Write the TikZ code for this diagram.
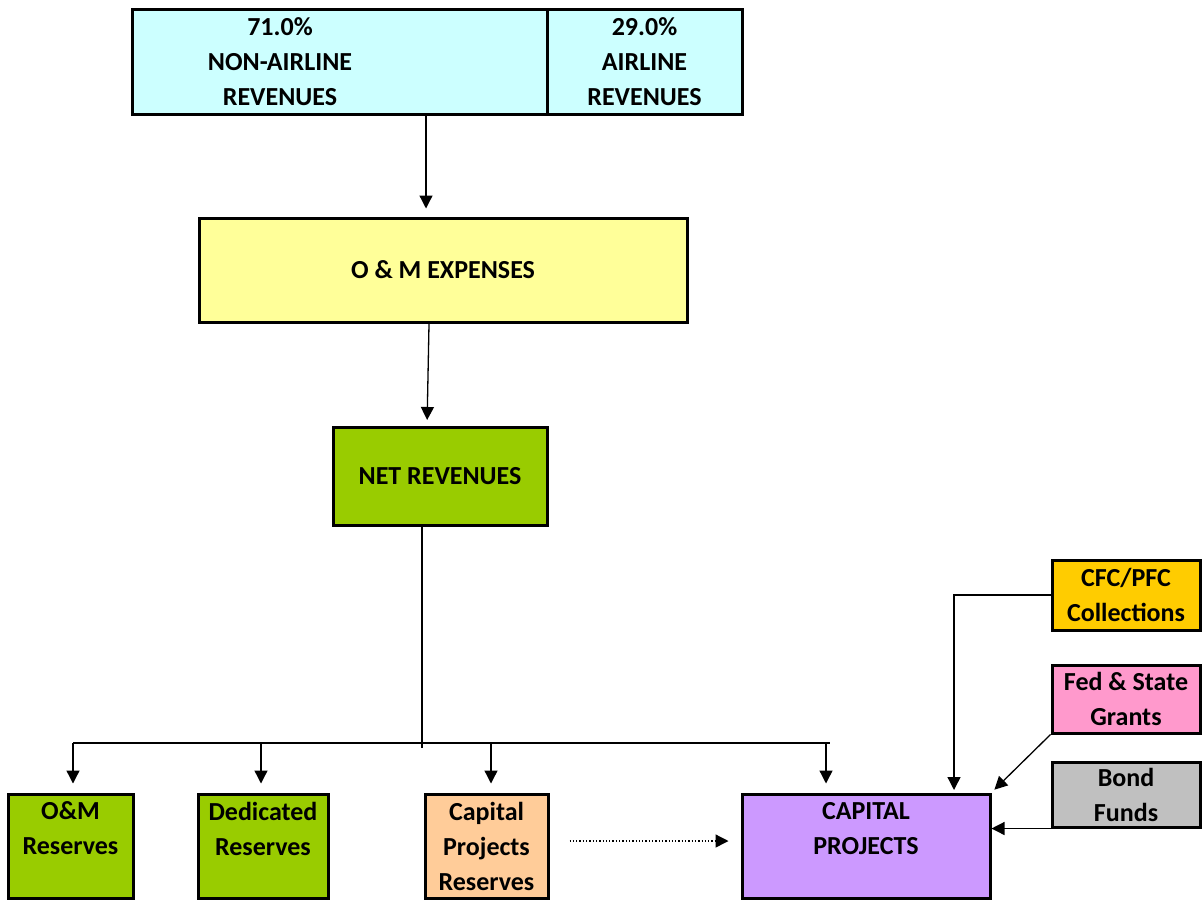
\documentclass[tikz,border=0pt]{standalone}
\usepackage{fontspec}
\setmainfont{Carlito}
\usetikzlibrary{arrows.meta}
\definecolor{revcyan}{HTML}{CCFFFF}
\definecolor{expyellow}{HTML}{FFFF99}
\definecolor{netgreen}{HTML}{99CC00}
\definecolor{respeach}{HTML}{FFCC99}
\definecolor{projpurple}{HTML}{CC99FF}
\definecolor{cfcgold}{HTML}{FFCC00}
\definecolor{grantpink}{HTML}{FF99CC}
\definecolor{bondgray}{HTML}{C0C0C0}
\begin{document}
\begin{tikzpicture}[x=0.5pt,y=-0.5pt,
    every node/.style={font=\bfseries\fontsize{13}{17.5}\selectfont,align=center},
    box/.style={rectangle,draw=black,line width=1.5pt,inner sep=0pt},
    arr/.style={-{Triangle[length=6.5pt,width=6.5pt]},line width=0.65pt}]
    \useasboundingbox (0,0) rectangle (1202,899);

    % revenue split
    \node[box,fill=revcyan,minimum width=207.5pt,minimum height=52pt] (nonair) at (339.5,62) {};
    \node[box,fill=revcyan,minimum width=97.5pt,minimum height=52pt] (air) at (644.5,62)
          {29.0\%\\AIRLINE\\REVENUES};
    \node (nonairtxt) at (280,62) {71.0\%\\NON-AIRLINE\\REVENUES};

    \node[box,fill=expyellow,minimum width=244pt,minimum height=52pt] (omexp) at (443,270)
          {O \& M EXPENSES};
    \node[box,fill=netgreen,minimum width=107pt,minimum height=49pt] (netrev) at (440,476)
          {NET REVENUES};

    % reserves and projects
    \node[box,fill=netgreen,minimum width=62.5pt,minimum height=52pt] (omres) at (70.5,846)
          {O\&M\\Reserves\\\mbox{}};
    \node[box,fill=netgreen,minimum width=65pt,minimum height=52pt] (dedres) at (263,846)
          {Dedicated\\Reserves\\\mbox{}};
    \node[box,fill=respeach,minimum width=61.5pt,minimum height=52pt] (capres) at (486.5,846)
          {Capital\\Projects\\Reserves};
    \node[box,fill=projpurple,minimum width=124pt,minimum height=52pt] (cappro) at (866,846)
          {CAPITAL\\PROJECTS\\\mbox{}};

    % outside funding
    \node[box,fill=cfcgold,minimum width=74pt,minimum height=35pt] (cfc) at (1126,595)
          {CFC/PFC\\Collections};
    \node[box,fill=grantpink,minimum width=74pt,minimum height=34pt] (fed) at (1126,699)
          {Fed \& State\\Grants};
    \node[box,fill=bondgray,minimum width=74pt,minimum height=32.5pt] (bond) at (1126,794.5)
          {Bond\\Funds};

    % flow
    \coordinate (revdrop) at (426,114);
    \coordinate (expdrop) at (429,324);
    \coordinate (netdrop) at (427,427);
    \draw[arr,shorten >=4pt] (revdrop) -- (omexp.north -| revdrop);
    \draw[arr,shorten >=3.5pt] (expdrop) -- (netdrop);

    \coordinate (stub) at (422,748);
    \coordinate (busl) at (73,743);
    \coordinate (busr) at (830,743);
    \draw[line width=0.65pt] (netrev.south -| stub) -- (stub);
    \draw[line width=0.65pt] (busl) -- (busr);
    \foreach \x/\b in {73/omres,261/dedres,491/capres,826/cappro} {
      \coordinate (d\b) at (\x,743);
      \draw[arr,shorten >=4.5pt] (d\b) -- (\b.north -| d\b);
    }

    \draw[arr,densely dotted,shorten <=10pt,shorten >=6pt] (capres.east |- 0,841) -- (cappro.west |- 0,841);

    \coordinate (cfcdrop) at (954,794);
    \draw[arr,shorten >=2pt] (cfc.west) -| (cfcdrop);
    \draw[arr,shorten >=2pt] (fed.south west) -- (cappro.north east);
    \draw[arr] (bond.south west) -- (bond.south west -| cappro.east);
  \end{tikzpicture}
\end{document}
